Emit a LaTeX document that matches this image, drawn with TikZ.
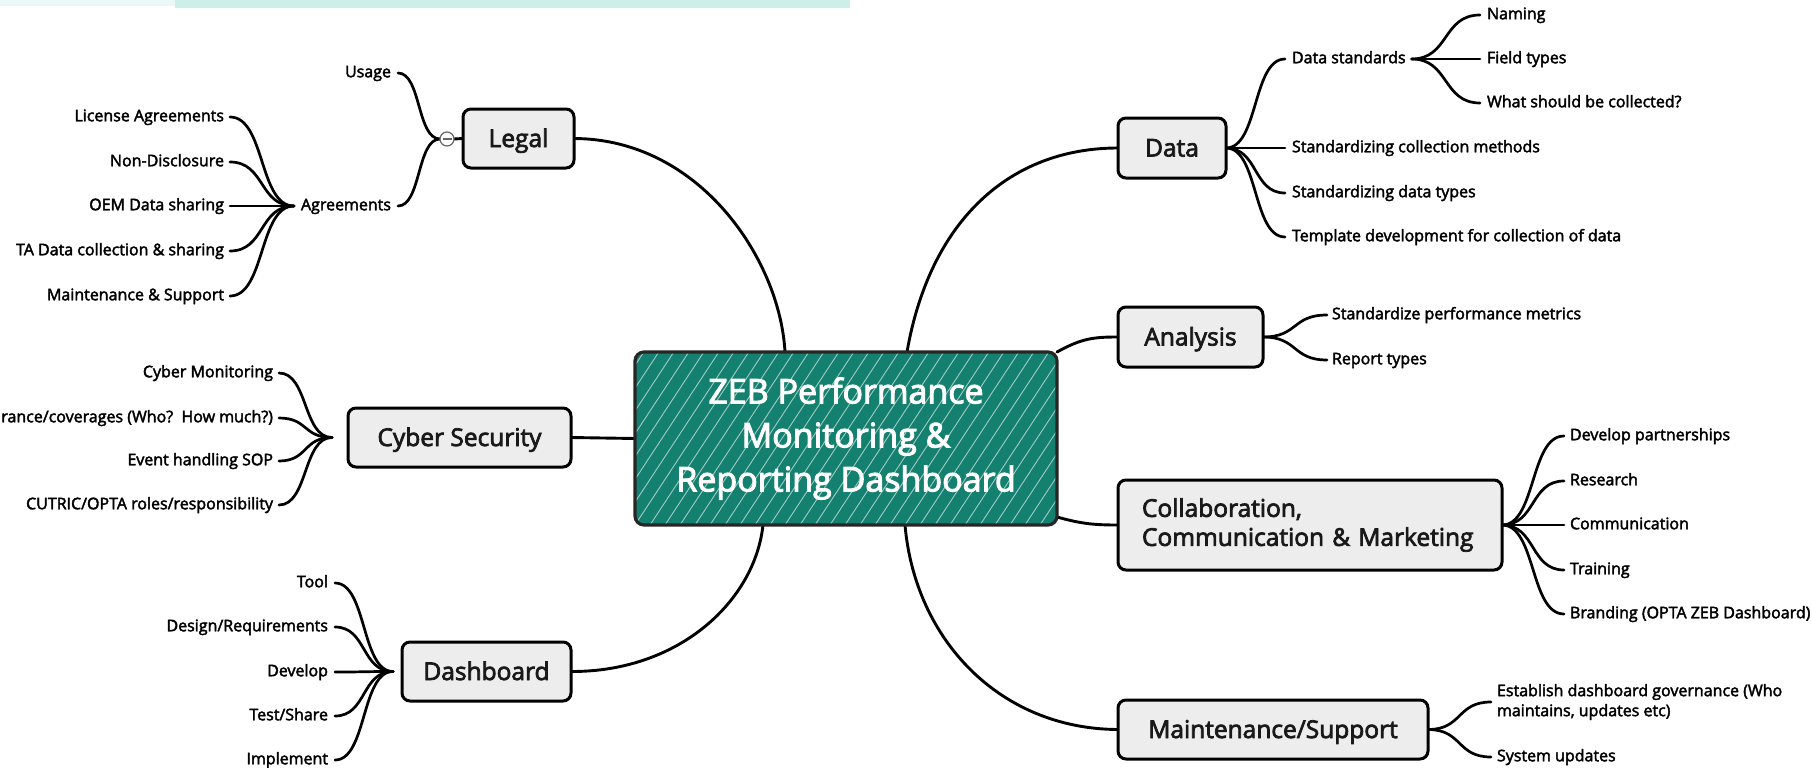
\documentclass[tikz,border=0pt]{standalone}
\usepackage{fontspec}
\setmainfont{Open Sans}
\newfontfamily\leaffont{Open Sans}[FakeBold=2.5]
\newfontfamily\topicfont{Open Sans}[FakeBold=3]
\usetikzlibrary{calc}
\pgfdeclarelayer{bg}
\pgfsetlayers{bg,main}
\definecolor{zebteal}{HTML}{14806F}
\definecolor{topicgray}{HTML}{EDEDED}
\definecolor{bandA}{HTML}{EAF9F6}
\definecolor{bandB}{HTML}{CDEFEA}
\newcommand{\myfan}[2]{\draw[conn] let \p1=(#1), \p2=(#2) in (\p1) .. controls ({\x1+0.55*(\x2-\x1)},\y1) and ({\x1+0.45*(\x2-\x1)},\y2) .. (\p2);}
\begin{document}
\begin{tikzpicture}[x=1pt,y=-1pt,
  every node/.style={outer sep=0pt},
  topic/.style={draw=black, line width=3pt, rounded corners=8pt, fill=topicgray, text=black!90, font=\topicfont\fontsize{24.5}{29}\selectfont, inner sep=0pt},
  onel/.style={text height=18pt, text depth=1pt},
  leaf/.style={font=\leaffont\fontsize{16}{20}\selectfont, inner sep=0pt, text height=12pt, text depth=3.5pt},
  conn/.style={line width=2.7pt, line cap=round, draw=black},
  branch/.style={line width=2.9pt, line cap=round, draw=black},
  hatch/.style={draw=white, line width=0.9pt, opacity=0.6},
  central/.style={draw=black!85, line width=3.2pt, rounded corners=9pt, fill=zebteal, text=white,
    font=\topicfont\fontsize{34}{44}\selectfont, align=center, inner sep=0pt,
    minimum width=422pt, minimum height=173pt,
    path picture={\foreach \k in {0,...,40}{\draw[hatch] ([xshift=\k*15pt-120pt]path picture bounding box.south west) -- ++(125pt,190pt);}}},
  collapse/.style={circle, draw=black!60, line width=1.2pt, fill=white, minimum size=14pt, inner sep=0pt}
]
\useasboundingbox (0,0) rectangle (1812,768);
\begin{pgfonlayer}{bg}
\fill[white] (0,0) rectangle (1812,768);
\fill[bandA] (0,0) rectangle (175,6);
\fill[bandB] (175,0) rectangle (850,8);
\end{pgfonlayer}

% central
\node[central] (c) at (846,438.5) {ZEB Performance\\Monitoring \&\\Reporting Dashboard};

% topics
\node[topic,onel,minimum width=111pt,minimum height=59pt] (legal) at (518.5,138.5) {Legal};
\node[topic,onel,minimum width=223pt,minimum height=59pt] (cyber) at (459.5,437.5) {Cyber Security};
\node[topic,onel,minimum width=169pt,minimum height=59pt] (dash) at (486.5,671.5) {Dashboard};
\node[topic,onel,minimum width=108pt,minimum height=60pt] (data) at (1172,148) {Data};
\node[topic,onel,minimum width=145pt,minimum height=60pt] (analysis) at (1190.5,337) {Analysis};
\node[topic,text width=336pt,align=left,inner xsep=24pt,minimum height=90pt] (collab) at (1310,525) {Collaboration,\\Communication \& Marketing};
\node[topic,onel,minimum width=310pt,minimum height=59pt] (maint) at (1273,729.5) {Maintenance/Support};

% collapse marker
\node[collapse] (circ) at (447,139) {};
\draw[black!60, line width=1.2pt] ([xshift=-4.5pt]circ.center) -- ([xshift=4.5pt]circ.center);

% left leaves
\node[leaf,anchor=east] (usage) at (391,73) {Usage};
\node[leaf,anchor=east] (agr) at (391,206) {Agreements};
\node[leaf,anchor=east] (lic) at (224,117) {License Agreements};
\node[leaf,anchor=east] (nda) at (224,162) {Non-Disclosure};
\node[leaf,anchor=east] (oem) at (224,206) {OEM Data sharing};
\node[leaf,anchor=east] (tad) at (224,251) {TA Data collection \& sharing};
\node[leaf,anchor=east] (mns) at (224,296) {Maintenance \& Support};

\node[leaf,anchor=east] (cybmon) at (273,373) {Cyber Monitoring};
\node[leaf,anchor=east] (insur) at (273,418) {rance/coverages (Who?\ \ How much?)};
\node[leaf,anchor=east] (event) at (273,461) {Event handling SOP};
\node[leaf,anchor=east] (cutric) at (273,505) {CUTRIC/OPTA roles/responsibility};

\node[leaf,anchor=east] (tool) at (328,583) {Tool};
\node[leaf,anchor=east] (design) at (328,627) {Design/Requirements};
\node[leaf,anchor=east] (develop) at (328,672) {Develop};
\node[leaf,anchor=east] (test) at (328,716) {Test/Share};
\node[leaf,anchor=east] (impl) at (328,760) {Implement};

% right leaves
\node[leaf,anchor=west] (dstd) at (1292,59) {Data standards};
\node[leaf,anchor=west] (scm) at (1292,148) {Standardizing collection methods};
\node[leaf,anchor=west] (sdt) at (1292,193) {Standardizing data types};
\node[leaf,anchor=west] (tmpl) at (1292,237) {Template development for collection of data};
\node[leaf,anchor=west] (naming) at (1487,15) {Naming};
\node[leaf,anchor=west] (field) at (1487,59) {Field types};
\node[leaf,anchor=west] (what) at (1487,103) {What should be collected?};

\node[leaf,anchor=west] (spm) at (1332,315) {Standardize performance metrics};
\node[leaf,anchor=west] (rtypes) at (1332,360) {Report types};

\node[leaf,anchor=west] (dp) at (1570,436) {Develop partnerships};
\node[leaf,anchor=west] (res) at (1570,481) {Research};
\node[leaf,anchor=west] (comm) at (1570,525) {Communication};
\node[leaf,anchor=west] (train) at (1570,570) {Training};
\node[leaf,anchor=west] (brand) at (1570,614) {Branding (OPTA ZEB Dashboard)};

\node[font=\leaffont\fontsize{16}{20}\selectfont, inner sep=0pt, align=left, anchor=west] (estab) at (1497,702) {Establish dashboard governance (Who\\maintains, updates etc)};
\node[leaf,anchor=west] (sysupd) at (1497,757) {System updates};

\begin{pgfonlayer}{bg}
% main branches
\draw[branch] (legal.east) .. controls (700,139) and (780,260) .. ([xshift=150pt]c.north west);
\draw[branch] ([xshift=272pt]c.north west) .. controls (930,220) and (1010,148) .. (data.west);
\draw[branch] (c.north east) .. controls (1082,338) and (1095,337) .. (analysis.west);
\draw[branch] ([yshift=8pt]c.south east) .. controls (1082,524) and (1095,525) .. (collab.west);
\draw[branch] (cyber.east) -- (c.west);
\draw[branch] (dash.east) .. controls (680,672) and (755,600) .. ([xshift=128pt]c.south west);
\draw[branch] ([xshift=270pt]c.south west) .. controls (915,640) and (1000,729) .. (maint.west);

% legal
\draw[branch] (circ.east) -- (legal.west);
\myfan{circ.west}{[xshift=7pt]usage.east}
\myfan{circ.west}{[xshift=7pt]agr.east}
\myfan{[xshift=-7pt]agr.west}{[xshift=6pt]lic.east}
\myfan{[xshift=-7pt]agr.west}{[xshift=6pt]nda.east}
\myfan{[xshift=-7pt]agr.west}{[xshift=6pt]oem.east}
\myfan{[xshift=-7pt]agr.west}{[xshift=6pt]tad.east}
\myfan{[xshift=-7pt]agr.west}{[xshift=6pt]mns.east}

% cyber
\myfan{[xshift=-16pt]cyber.west}{[xshift=6pt]cybmon.east}
\myfan{[xshift=-16pt]cyber.west}{[xshift=6pt]insur.east}
\myfan{[xshift=-16pt]cyber.west}{[xshift=6pt]event.east}
\myfan{[xshift=-16pt]cyber.west}{[xshift=6pt]cutric.east}

% dashboard
\myfan{[xshift=-9pt]dash.west}{[xshift=7pt]tool.east}
\myfan{[xshift=-9pt]dash.west}{[xshift=7pt]design.east}
\myfan{[xshift=-9pt]dash.west}{[xshift=7pt]develop.east}
\myfan{[xshift=-9pt]dash.west}{[xshift=7pt]test.east}
\myfan{[xshift=-9pt]dash.west}{[xshift=7pt]impl.east}

% data
\myfan{data.east}{[xshift=-7pt]dstd.west}
\myfan{data.east}{[xshift=-7pt]scm.west}
\myfan{data.east}{[xshift=-7pt]sdt.west}
\myfan{data.east}{[xshift=-7pt]tmpl.west}
\myfan{[xshift=6pt]dstd.east}{[xshift=-7pt]naming.west}
\myfan{[xshift=6pt]dstd.east}{[xshift=-7pt]field.west}
\myfan{[xshift=6pt]dstd.east}{[xshift=-7pt]what.west}

% analysis
\myfan{analysis.east}{[xshift=-5pt]spm.west}
\myfan{analysis.east}{[xshift=-5pt]rtypes.west}

% collaboration
\myfan{collab.east}{[xshift=-6pt]dp.west}
\myfan{collab.east}{[xshift=-6pt]res.west}
\myfan{collab.east}{[xshift=-6pt]comm.west}
\myfan{collab.east}{[xshift=-6pt]train.west}
\myfan{collab.east}{[xshift=-6pt]brand.west}

% maintenance
\myfan{maint.east}{[xshift=-6pt]estab.west}
\myfan{maint.east}{[xshift=-6pt]sysupd.west}
\end{pgfonlayer}
\end{tikzpicture}
\end{document}
